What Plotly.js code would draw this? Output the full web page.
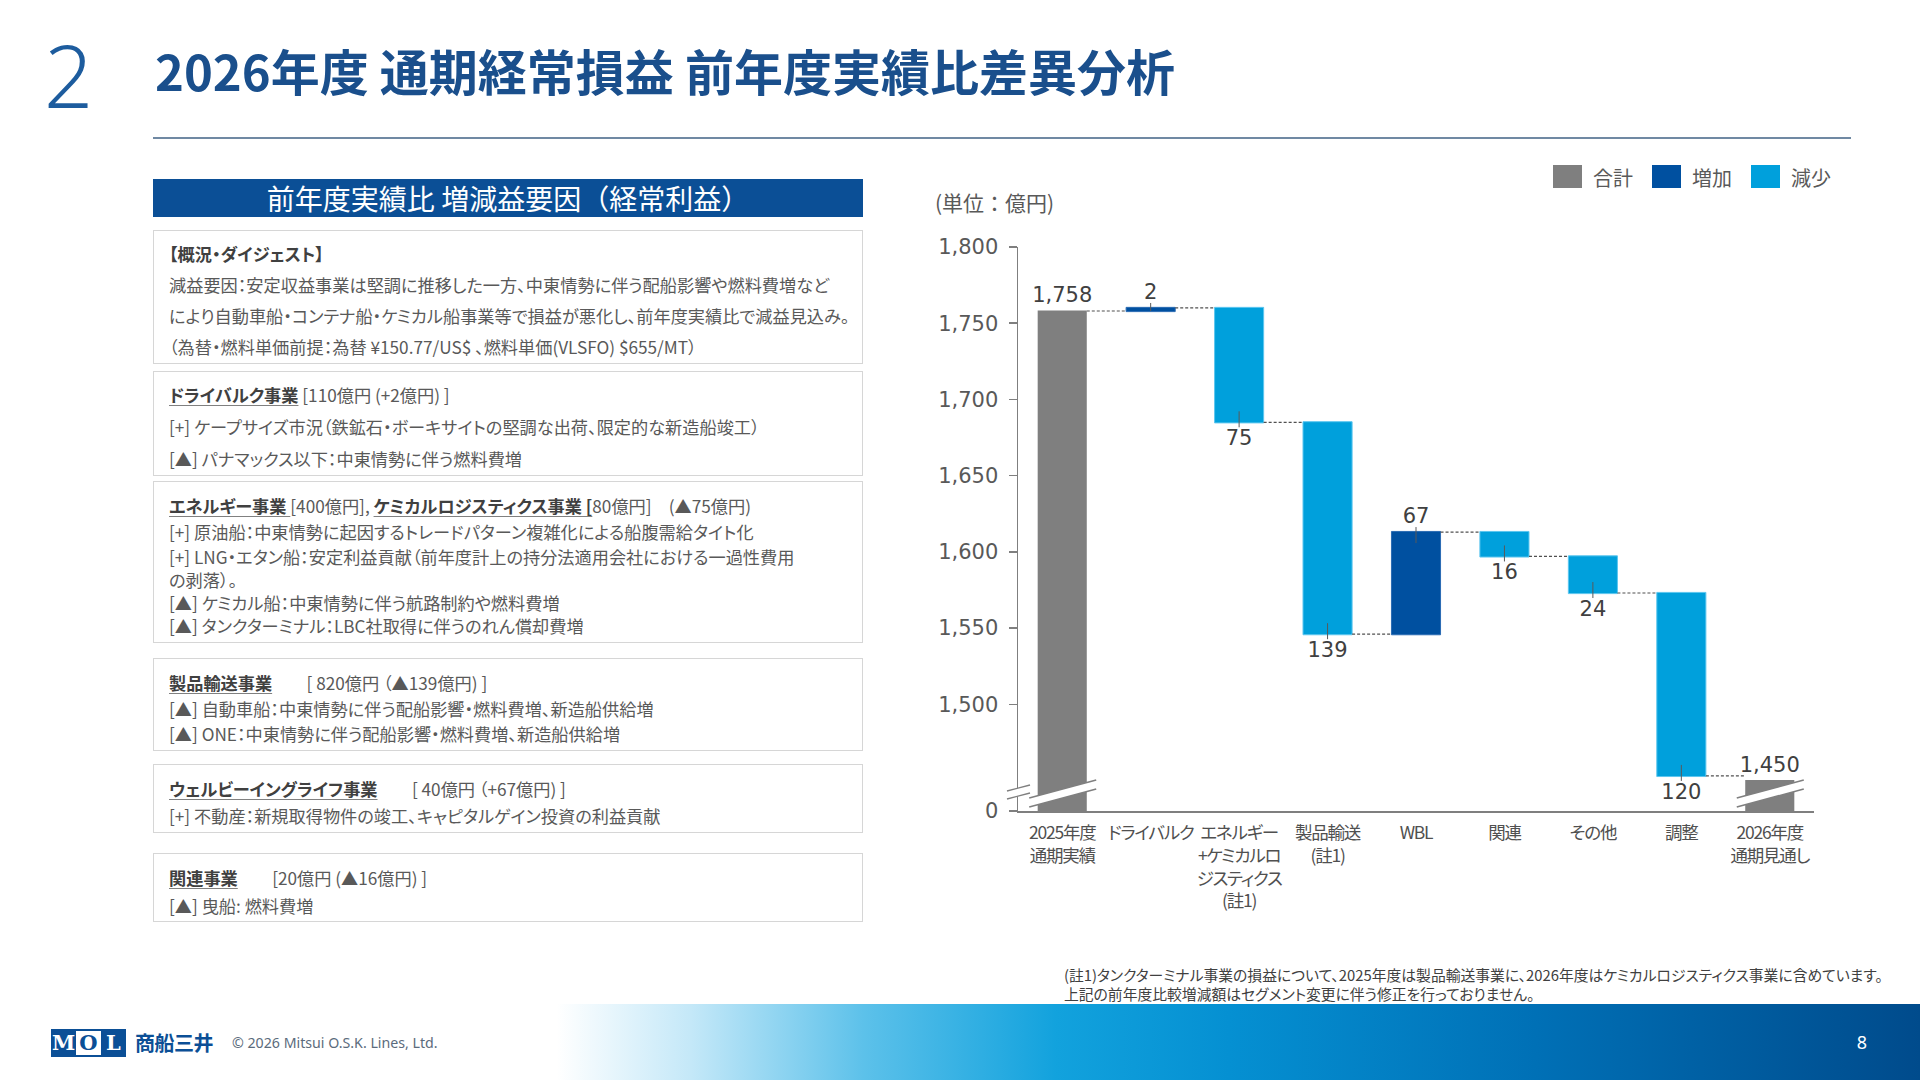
<!DOCTYPE html>
<html lang="ja">
<head>
<meta charset="utf-8">
<title>2026年度 通期経常損益 前年度実績比差異分析</title>
<script src="https://cdn.plot.ly/plotly-3.0.1.min.js"></script>
<style>
  html, body { margin:0; padding:0; }
  body { width:1920px; height:1080px; position:relative; overflow:hidden; background:#fff;
         font-family:"Noto Sans CJK JP","Noto Sans",sans-serif; color:#595959; }
  .abs { position:absolute; }
  #secno { left:44px; top:20px; font-family:"Noto Sans","Lato",sans-serif; font-weight:300;
           font-size:86px; line-height:110px; color:#1d5c9e; }
  #title { left:155px; top:35px; font-size:49px; font-weight:700; color:#1a4f8c; line-height:70px;
           white-space:nowrap; }
  #rule { left:153px; top:137px; width:1698px; height:2px; background:#7089a3; }
  #panelHead { left:153px; top:179px; width:710px; height:38px; background:#0b4f96; color:#fff;
               font-size:28px; line-height:38px; text-align:center; }
  .box { position:absolute; left:153px; width:710px; border:1.5px solid #d6d6d6; box-sizing:border-box;
         padding-left:15px; font-size:17.2px; font-feature-settings:"palt"; white-space:nowrap; color:#595959; }
  .box .ln { display:block; }
  .hd { font-weight:700; color:#404040; text-decoration:underline; text-decoration-color:#808080;
        text-underline-offset:3px; }
  .bk { font-weight:700; color:#404040; }
  #chart { left:900px; top:150px; width:1000px; height:800px; }
  #chart .xtick text, #chart .xtick tspan { font-feature-settings:"palt"; letter-spacing:-1.2px; }
  #note { left:1064px; top:965px; font-size:14.8px; line-height:19px; color:#404040; white-space:nowrap;
          font-feature-settings:"palt"; }
  #footband { left:0; top:1004px; width:1920px; height:76px;
              background:linear-gradient(to right,#ffffff 0%,#ffffff 29%,#c4e8f8 36%,#5cc1ea 45%,#12a2dd 55%,#0590d2 64%,#0070b6 80%,#004b8c 100%); }
  #pageno { left:1852px; top:1028px; width:20px; text-align:center; color:#fff; font-size:18px; line-height:28px;
            font-family:"Noto Sans",sans-serif; }
  #logo { left:51px; top:1029px; height:28px; display:flex; }
  .lg { width:25px; height:28px; box-sizing:border-box; font-family:"DejaVu Serif","Liberation Serif",serif;
        font-weight:700; font-size:21px; line-height:28px; text-align:center; }
  .lg.b { background:#0b4f96; color:#fff; }
  .lg.w { background:#fff; color:#0b4f96; border-top:2px solid #0b4f96; border-bottom:2px solid #0b4f96; line-height:24px; }
  #logojp { left:135px; top:1027px; font-size:20px; font-weight:700; color:#0b4f96; line-height:32px; letter-spacing:-0.5px; }
  #copy { left:232px; top:1033px; font-size:14.2px; color:#5b6b7c; line-height:20px; font-family:"Noto Sans",sans-serif; }
</style>
</head>
<body>

<div class="abs" id="secno">2</div>
<div class="abs" id="title">2026年度 通期経常損益 前年度実績比差異分析</div>
<div class="abs" id="rule"></div>

<div class="abs" id="panelHead">前年度実績比 増減益要因（経常利益）</div>

<div class="box" style="top:230px;height:134px;padding-top:8px;">
  <span class="ln bk" style="height:30px;line-height:30px;">【概況・ダイジェスト】</span>
  <span class="ln" style="height:31px;line-height:31px;">減益要因：安定収益事業は堅調に推移した一方、中東情勢に伴う配船影響や燃料費増など</span>
  <span class="ln" style="height:31px;line-height:31px;">により自動車船・コンテナ船・ケミカル船事業等で損益が悪化し、前年度実績比で減益見込み。</span>
  <span class="ln" style="height:31px;line-height:31px;">（為替・燃料単価前提：為替 ¥150.77/US$ 、燃料単価(VLSFO) $655/MT）</span>
</div>

<div class="box" style="top:371px;height:105px;padding-top:7px;">
  <span class="ln" style="height:32px;line-height:32px;"><span class="hd">ドライバルク事業</span> [110億円 (+2億円) ]</span>
  <span class="ln" style="height:32px;line-height:32px;">[+] ケープサイズ市況（鉄鉱石・ボーキサイトの堅調な出荷、限定的な新造船竣工）</span>
  <span class="ln" style="height:32px;line-height:32px;">[▲] パナマックス以下：中東情勢に伴う燃料費増</span>
</div>

<div class="box" style="top:481px;height:162px;padding-top:9.5px;">
  <span class="ln" style="height:27px;line-height:27px;"><span class="hd">エネルギー事業 </span>[400億円],  <span class="hd">ケミカルロジスティクス事業 [</span>80億円]　(▲75億円)</span>
  <span class="ln" style="height:26px;line-height:26px;">[+] 原油船：中東情勢に起因するトレードパターン複雑化による船腹需給タイト化</span>
  <span class="ln" style="height:23px;line-height:23px;">[+] LNG・エタン船：安定利益貢献（前年度計上の持分法適用会社における一過性費用</span>
  <span class="ln" style="height:23px;line-height:23px;">の剥落）。</span>
  <span class="ln" style="height:23px;line-height:23px;">[▲] ケミカル船：中東情勢に伴う航路制約や燃料費増</span>
  <span class="ln" style="height:23px;line-height:23px;">[▲] タンクターミナル：LBC社取得に伴うのれん償却費増</span>
</div>

<div class="box" style="top:658px;height:93px;padding-top:10px;">
  <span class="ln" style="height:27px;line-height:27px;"><span class="hd">製品輸送事業</span>　　[ 820億円 （▲139億円) ]</span>
  <span class="ln" style="height:25px;line-height:25px;">[▲] 自動車船：中東情勢に伴う配船影響・燃料費増、新造船供給増</span>
  <span class="ln" style="height:25px;line-height:25px;">[▲] ONE：中東情勢に伴う配船影響・燃料費増、新造船供給増</span>
</div>

<div class="box" style="top:764px;height:69px;padding-top:9.5px;">
  <span class="ln" style="height:27px;line-height:27px;"><span class="hd">ウェルビーイングライフ事業</span>　　[ 40億円 （+67億円) ]</span>
  <span class="ln" style="height:27px;line-height:27px;">[+] 不動産：新規取得物件の竣工、キャピタルゲイン投資の利益貢献</span>
</div>

<div class="box" style="top:853px;height:69px;padding-top:10px;">
  <span class="ln" style="height:28px;line-height:28px;"><span class="hd">関連事業</span>　　[20億円 (▲16億円) ]</span>
  <span class="ln" style="height:28px;line-height:28px;">[▲] 曳船: 燃料費増</span>
</div>

<div class="abs" id="chart"></div>

<div class="abs" id="note">(註1)タンクターミナル事業の損益について、2025年度は製品輸送事業に、2026年度はケミカルロジスティクス事業に含めています。<br>上記の前年度比較増減額はセグメント変更に伴う修正を行っておりません。</div>

<div class="abs" id="footband"></div>
<div class="abs" id="pageno">8</div>
<div class="abs" id="logo"><span class="lg b">M</span><span class="lg w">O</span><span class="lg b">L</span></div>
<div class="abs" id="logojp">商船三井</div>
<div class="abs" id="copy">© 2026 Mitsui O.S.K. Lines, Ltd.</div>

<script>
// ---- data ----
const categories = [
  '2025年度<br>通期実績',
  'ドライバルク',
  'エネルギー<br>+ケミカルロ<br>ジスティクス<br>(註1)',
  '製品輸送<br>(註1)',
  'WBL',
  '関連',
  'その他',
  '調整',
  '2026年度<br>通期見通し'
];
const measures = ['absolute', 'relative', 'relative', 'relative', 'relative',
                  'relative', 'relative', 'relative', 'absolute'];
const values = [1758, 2, -75, -139, 67, -16, -24, -120, 1450];

// broken value axis: the floor of the visible range is shown as 0
const axisFloor = 1430;
const axisTop = 1800;
const yTickVals = [1430, 1500, 1550, 1600, 1650, 1700, 1750, 1800];
const yTickText = ['0', '1,500', '1,550', '1,600', '1,650', '1,700', '1,750', '1,800'];

const legendNames = ['合計', '増加', '減少'];
const unitLabel = '(単位：億円)';

// ---- styling ----
const colTotal = '#7F7F7F';
const colUp = '#0050A0';
const colDown = '#00A0DC';
const axisGrey = '#7F7F7F';
const textGrey = '#404040';

// plot area geometry inside the chart div
const W = 1000, H = 800;
const M = {l: 118, r: 86, t: 97, b: 139};
const plotW = W - M.l - M.r;
const plotH = H - M.t - M.b;
const pxPerUnit = plotH / (axisTop - axisFloor);
const px = x => (x - M.l) / plotW;          // div pixel -> paper x
const py = y => (H - M.b - y) / plotH;      // div pixel -> paper y

// running level after each bar
const ends = [];
let run = 0;
values.forEach((v, i) => {
  run = measures[i] === 'absolute' ? v : run + v;
  ends.push(run);
});

const labels = values.map(v => Math.abs(v).toLocaleString('en-US'));

const trace = {
  type: 'waterfall',
  x: categories,
  y: values,
  measure: measures,
  text: labels,
  textposition: 'outside',
  textfont: {family: 'DejaVu Sans, Verdana, sans-serif', size: 21, color: textGrey},
  constraintext: 'none',
  increasing: {marker: {color: colUp, line: {color: '#2a6bb3', width: 1}}},
  decreasing: {marker: {color: colDown, line: {color: '#5cc6ef', width: 1}}},
  totals: {marker: {color: colTotal, line: {color: colTotal, width: 0}}},
  connector: {mode: 'between', line: {color: '#505050', width: 1.2, dash: '3px,2px'}},
  hoverinfo: 'skip',
  showlegend: false
};

const shapes = [];
const annotations = [];

// leader ticks between each change bar and its label
values.forEach((v, i) => {
  if (measures[i] !== 'relative') return;
  const inside = Math.min(11, Math.abs(v) * pxPerUnit);
  const up = v > 0;
  shapes.push({
    type: 'line', xref: 'x', yref: 'y', layer: 'above',
    x0: categories[i], x1: categories[i],
    ysizemode: 'pixel', yanchor: ends[i],
    y0: up ? -inside : inside, y1: up ? 5 : -5,
    line: {color: '#595959', width: 1}
  });
});

// axis-break marks across the total bars
measures.forEach((m, i) => {
  if (m !== 'absolute') return;
  const common = {xref: 'x', yref: 'y', xsizemode: 'pixel', ysizemode: 'pixel',
                  xanchor: categories[i], yanchor: axisFloor, layer: 'above'};
  shapes.push(Object.assign({type: 'path', path: 'M-33,4 L34,22 L34,31 L-33,13 Z',
    fillcolor: '#FFFFFF', line: {width: 0}}, common));
  shapes.push(Object.assign({type: 'path', path: 'M-33,4 L34,22',
    line: {color: axisGrey, width: 1.5}}, common));
  shapes.push(Object.assign({type: 'path', path: 'M-33,13 L34,31',
    line: {color: axisGrey, width: 1.5}}, common));
});

// axis-break mark on the value axis
{
  const common = {xref: 'paper', yref: 'y', xsizemode: 'pixel', ysizemode: 'pixel',
                  xanchor: 0, yanchor: axisFloor, layer: 'above'};
  shapes.push(Object.assign({type: 'path', path: 'M-11,12 L12,18 L12,26 L-11,20 Z',
    fillcolor: '#FFFFFF', line: {width: 0}}, common));
  shapes.push(Object.assign({type: 'path', path: 'M-11,12 L12,18',
    line: {color: axisGrey, width: 1.3}}, common));
  shapes.push(Object.assign({type: 'path', path: 'M-11,20 L12,26',
    line: {color: axisGrey, width: 1.3}}, common));
}

// legend: swatch + name
const legendColors = [colTotal, colUp, colDown];
const legendX = [653, 752, 851];   // swatch left edges, chart-div pixels
legendNames.forEach((name, k) => {
  shapes.push({
    type: 'rect', xref: 'paper', yref: 'paper',
    x0: px(legendX[k]), x1: px(legendX[k] + 29),
    y0: py(38), y1: py(15),
    fillcolor: legendColors[k], line: {width: 0}
  });
  annotations.push({
    xref: 'paper', yref: 'paper', x: px(legendX[k] + 38), y: py(27),
    xanchor: 'left', yanchor: 'middle', showarrow: false, text: name,
    font: {family: 'Noto Sans CJK JP', size: 20, color: '#595959'}
  });
});

annotations.push({
  xref: 'paper', yref: 'paper', x: px(33), y: py(52),
  xanchor: 'left', yanchor: 'middle', showarrow: false, text: unitLabel,
  font: {family: 'Noto Sans CJK JP', size: 21, color: '#595959'}
});

const layout = {
  width: W, height: H,
  margin: M,
  paper_bgcolor: '#FFFFFF', plot_bgcolor: '#FFFFFF',
  font: {family: 'Noto Sans CJK JP, sans-serif', color: textGrey},
  waterfallgap: 0.445,
  showlegend: false,
  xaxis: {
    type: 'category',
    showline: true, linecolor: axisGrey, linewidth: 2,
    ticks: '', showgrid: false, zeroline: false,
    tickangle: 0,
    tickfont: {family: 'Noto Sans CJK JP', size: 17.5, color: '#505050'},
    ticklabelstandoff: 5,
    fixedrange: true
  },
  yaxis: {
    range: [axisFloor, axisTop],
    tickvals: yTickVals, ticktext: yTickText,
    showline: true, linecolor: axisGrey, linewidth: 1.5,
    ticks: 'outside', ticklen: 8, tickwidth: 1.5, tickcolor: axisGrey,
    showgrid: false, zeroline: false,
    tickfont: {family: 'DejaVu Sans, Verdana, sans-serif', size: 21, color: '#595959'},
    ticklabelstandoff: 6,
    fixedrange: true
  },
  shapes: shapes,
  annotations: annotations
};

Plotly.newPlot('chart', [trace], layout, {staticPlot: true, displayModeBar: false});
</script>
</body>
</html>
